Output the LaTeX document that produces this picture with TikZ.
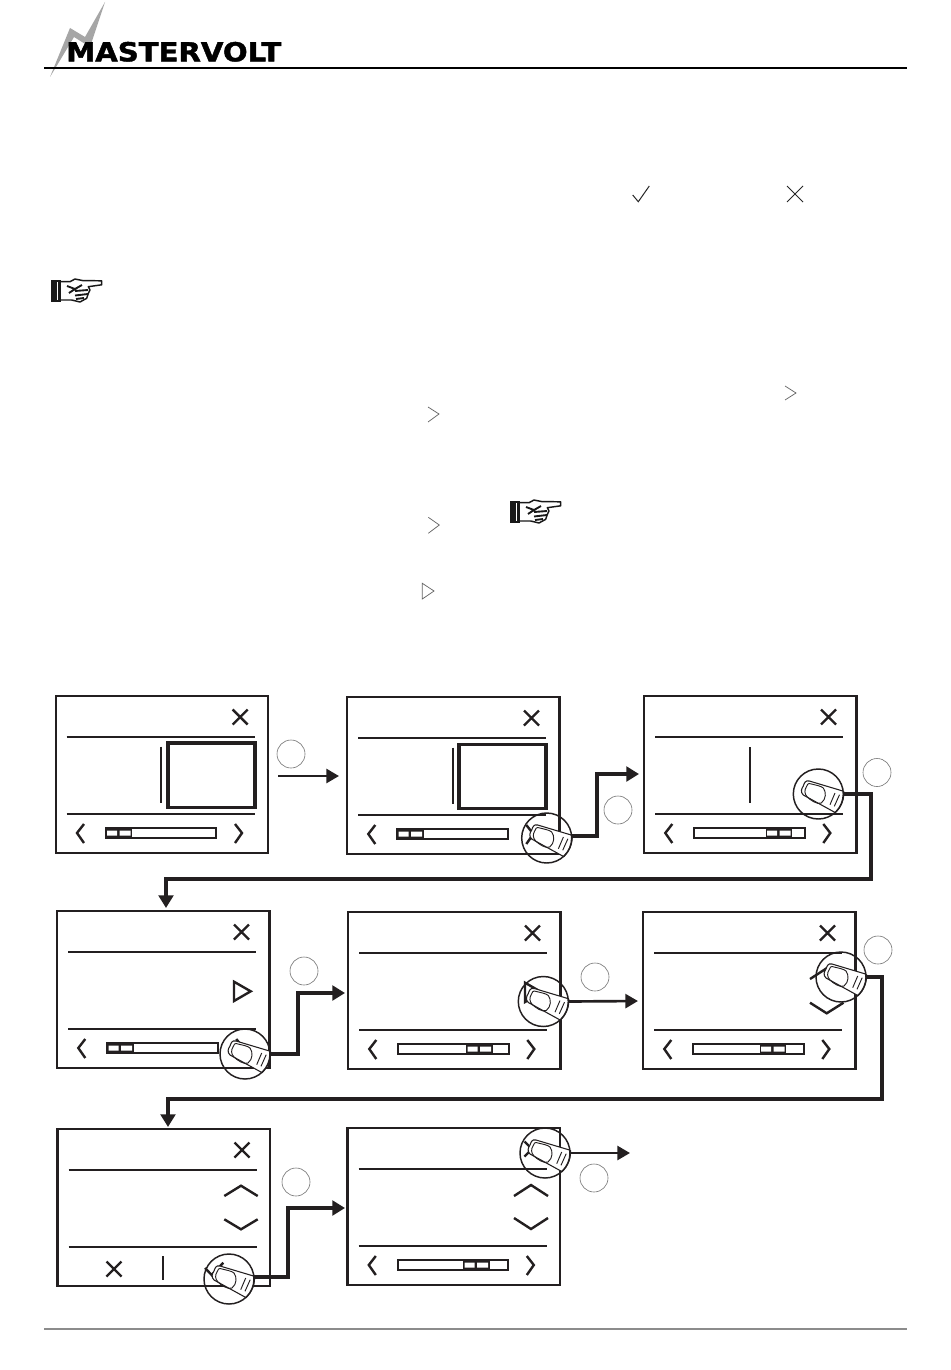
\documentclass[tikz,border=0pt]{standalone}
\usepackage{fontspec}
\usepackage{graphicx}
\usetikzlibrary{arrows.meta}
\setmainfont{DejaVu Sans}[BoldFeatures={FakeBold=1.6}]
\definecolor{ink}{HTML}{231F20}
\tikzset{
  panelbox/.style={draw=ink,line width=1.8pt,rectangle,minimum width=159.4pt,minimum height=117.75pt,inner sep=0pt,outer sep=0pt,anchor=north west},
  rule/.style={draw=ink,line width=1.5pt},
  glyph/.style={draw=ink,line width=1.8pt,line cap=butt,line join=miter},
  tapring/.style={draw=ink,line width=1.1pt,circle,minimum size=37.5pt,inner sep=0pt,outer sep=0pt},
  stepmark/.style={draw=black!55,line width=.45pt,circle,minimum size=21pt,inner sep=0pt,outer sep=0pt},
  conn/.style={draw=ink,line width=2.5pt,line join=miter,-{Triangle[length=9.5pt,width=11pt]}},
  thinconn/.style={draw=ink,line width=2pt,-{Triangle[length=9.5pt,width=10.5pt]}},
  greyicon/.style={draw=black!60,line width=.55pt},
  darkicon/.style={draw=black!85,line width=.75pt},
}
\newcommand{\pframe}[3]{%
  \node[panelbox] (#1) at (#2,#3) {};
  \begin{scope}[shift={(#2,#3)}]
    \draw[rule] (11,41) -- (199,41);
    \draw[rule] (11,118) -- (199,118);
    \draw[glyph] (177,13.5) -- (192,28.5) (177,28.5) -- (192,13.5);
  \end{scope}}
\newcommand{\pnav}[3]{% x y thumb offset
  \begin{scope}[shift={(#1,#2)}]
    \draw[glyph] (28.3,128) -- (21.3,137) -- (28.3,147);
    \draw[glyph] (179.3,128) -- (186.3,137) -- (179.3,147);
    \draw[draw=ink,line width=1.5pt] (50,132) rectangle (160.5,142);
    \fill[ink] (#3,132) rectangle (#3+26.5,142);
    \fill[white] (#3+1.5,134.6) rectangle (#3+11.5,139.6) (#3+14,134.6) rectangle (#3+25,139.6);
  \end{scope}}
\newcommand{\finger}[1]{%
  \begin{scope}[shift={(#1)}]
    \path[fill=white,draw=ink,line width=.8pt] (25.5,-2.7) -- (-9,-13)
      .. controls (-13,-14) and (-14,-11) .. (-15,-8)
      .. controls (-17,-5) and (-18,-2) .. (-15,1)
      -- (17,18.6) .. controls (23,13) and (26,5) .. (25.5,-2.7);
    \draw[draw=ink,line width=.7pt] (-9,-10.5) .. controls (-3,-9) and (3,-8) .. (5,-6)
      .. controls (8,-2) and (8,5) .. (3,9)
      .. controls (-1,11) and (-8,6) .. (-11,3)
      .. controls (-14,0) and (-14,-4) .. (-12,-7)
      .. controls (-11,-9.5) and (-10,-11) .. (-9,-10.5);
    \draw[draw=ink,line width=.7pt] (16.7,-1) -- (11.7,10.7) (21.2,.7) -- (16,12.3);
  \end{scope}}
\newcommand{\pointer}[2]{%
  \begin{scope}[shift={(#1,#2)}]
    \fill[black!90] (0,0) rectangle (10,22);
    \fill[white] (5.6,2) rectangle (7,20);
    \draw[draw=black!90,line width=1.1pt,fill=white,line join=round] (10,1.7) -- (19,1.7) -- (24,-1) -- (32,.6) -- (50.7,.8)
      -- (50.7,4.8) -- (37.3,6.7) -- (39,10) -- (37.3,13.5) -- (35.7,18.3) -- (29,22) -- (20.7,20) -- (10,20);
    \draw[draw=black!90,line width=1.4pt] (16,6) -- (24,9) -- (31,5) (24,9) -- (18,13) (24,11) -- (37,10) (24,15.5) -- (37,14) (25,19) -- (33,18);
  \end{scope}}
\begin{document}
\begin{tikzpicture}[x=.75pt,y=-.75pt]
\useasboundingbox (0,0) rectangle (950,1370);
\fill[white] (0,0) rectangle (950,1370);

% header
\fill[black!35] (50,77) -- (70,28) -- (85,37) -- (105,2) -- (90,47) -- (74,37) -- cycle;
\node[inner sep=0pt,anchor=south west,text=black] (logo) at (66,62) {\resizebox{161.25pt}{14.6pt}{\bfseries MASTERVOLT}};
\draw[draw=black,line width=.8pt] (44,68) -- (907,68);
\draw[draw=black!45,line width=1.4pt] (44,1329) -- (907,1329);

% loose symbols
\pointer{51}{280}
\pointer{510}{501}
\draw[darkicon] (632.7,195) -- (638.3,201.7) -- (649.3,186);
\draw[darkicon] (787,186) -- (803,202) (787,202) -- (803,186);
\draw[greyicon] (785,386) -- (796,393) -- (785,400);
\draw[greyicon] (428,407) -- (439,414) -- (428,422);
\draw[greyicon] (428.3,517.3) -- (439.3,525) -- (428.3,533.3);
\draw[greyicon] (422.3,583.3) -- (422.3,599) -- (434,591) -- cycle;

% panels
\pframe{p1}{55.7}{696}\pnav{55.7}{696}{50}
\draw[draw=ink,line width=1.5pt] (160.7,746.7) -- (160.7,802.7);
\draw[draw=ink,line width=2.4pt] (168,743) rectangle (255,807.5);

\pframe{p2}{347}{697}\pnav{347}{697}{50}
\draw[draw=ink,line width=1.5pt] (452.7,747.7) -- (452.7,803.7);
\draw[draw=ink,line width=2.4pt] (459,744.5) rectangle (546,808.5);

\pframe{p3}{644}{696}\pnav{644}{696}{121.5}
\draw[draw=ink,line width=1.5pt] (750,747) -- (750,803);

\pframe{p4}{57}{911}\pnav{57}{911}{50}
\draw[glyph] (234,981.7) -- (234,1001) -- (250.7,991.3) -- cycle;

\pframe{p5}{348}{912}\pnav{348}{912}{118}
\draw[glyph] (525,982.7) -- (525,1002) -- (541.7,992.3) -- cycle;

\pframe{p6}{643}{912}\pnav{643}{912}{116.5}
\draw[glyph] (810,979) -- (827,968) -- (844,979);
\draw[glyph] (810,1002.7) -- (826.7,1013.3) -- (843.5,1002.7);

\pframe{p7}{57.5}{1129}
\draw[glyph] (106.5,1261.5) -- (121.5,1276.5) (106.5,1276.5) -- (121.5,1261.5);
\draw[draw=ink,line width=1.5pt] (163,1256) -- (163,1279.5);
\draw[glyph] (224.3,1196) -- (241,1185.7) -- (257.7,1196);
\draw[glyph] (224.3,1219.3) -- (241,1229.3) -- (257.7,1219.3);
\draw[glyph] (205,1268) -- (211.7,1275) -- (223.3,1262.7);

\pframe{p8}{347.5}{1128}\pnav{347.5}{1128}{115.5}
\draw[glyph] (514,1196) -- (531,1185) -- (548,1196);
\draw[glyph] (514,1218) -- (531,1229) -- (548,1218);

% tapping fingers
\finger{546.7,838}
\node[tapring] (t2) at (546.7,838) {};
\finger{818.3,794}
\node[tapring] (t3) at (818.3,794) {};
\finger{245,1054}
\node[tapring] (t4) at (245,1054) {};
\finger{543.3,1001.5}
\node[tapring] (t5) at (543.3,1001.5) {};
\finger{841,977}
\node[tapring] (t6) at (841,977) {};
\finger{229,1279}
\node[tapring] (t7) at (229,1279) {};
\finger{545,1153}
\node[tapring] (t8) at (545,1153) {};

% step markers
\node[stepmark] (s1) at (291,754) {};
\node[stepmark] (s2) at (618,810) {};
\node[stepmark] (s3) at (877,772.5) {};
\node[stepmark] (s4) at (304,971) {};
\node[stepmark] (s5) at (595,977) {};
\node[stepmark] (s6) at (878,950) {};
\node[stepmark] (s7) at (296,1182) {};
\node[stepmark] (s8) at (594,1178) {};

% connectors
\coordinate (a1s) at (278,776);
\coordinate (a1e) at (339,776);
\coordinate (a2e) at (639,774);
\coordinate (a3e) at (166,908);
\coordinate (a4e) at (345,993);
\coordinate (a5e) at (638,1001);
\coordinate (a6e) at (168,1127);
\coordinate (a7e) at (345,1208);
\coordinate (a8e) at (630,1153);
\draw[thinconn] (a1s) -- (a1e);
\draw[conn] (t2.east) ++(0,-2) -- (597,836) -- (597,774) -- (a2e);
\draw[conn] (t3.east) -- (871,794) -- (871,879) -- (166,879) -- (a3e);
\draw[conn] (t4.east) -- (298,1054) -- (298,993) -- (a4e);
\draw[thinconn] (t5.east) -- (a5e);
\draw[conn] (t6.east) -- (882,977) -- (882,1099) -- (168,1099) -- (a6e);
\draw[conn] (254,1277) -- (288,1277) -- (288,1208) -- (a7e);
\draw[thinconn] (t8.east) -- (a8e);
\end{tikzpicture}
\end{document}
